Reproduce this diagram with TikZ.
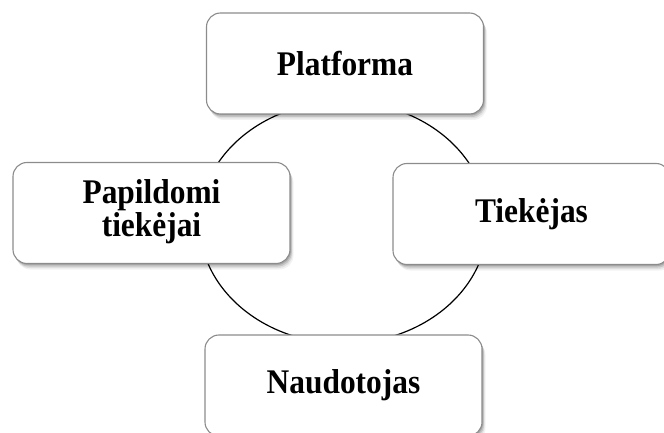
\documentclass[tikz,border=0pt]{standalone}
\usepackage{graphicx}
\usepackage{fontspec}
\setmainfont{Liberation Serif}
\newcommand{\vstretch}[1]{\scalebox{1}[1.1]{#1}}
\begin{document}
\begin{tikzpicture}[x=1pt,y=-1pt,
  cyc/.style={draw=black!45, line width=1.1pt, fill=white, rounded corners=14pt,
    minimum width=277pt, minimum height=101pt, align=center, inner sep=0pt,
    font=\fontsize{31.4}{28.4}\selectfont\bfseries,
    preaction={fill=black, opacity=0.05, transform canvas={xshift=3.5pt,yshift=-6pt}},
    preaction={fill=black, opacity=0.08, transform canvas={xshift=2.5pt,yshift=-4.5pt}},
    preaction={fill=black, opacity=0.12, transform canvas={xshift=1.8pt,yshift=-3pt}},
    preaction={fill=black, opacity=0.15, transform canvas={xshift=1pt,yshift=-1.5pt}}},
  ring/.style={draw=black, line width=1.2pt}]
\useasboundingbox (0,0) rectangle (664,433);
\draw[ring] (343.5,222.5) ellipse [x radius=144, y radius=121];
\node[cyc] (plat) at (345,63.5) {\vstretch{Platforma}};
\node[cyc] (tiek) at (531.5,214) {\vstretch{Tiekėjas}};
\node[cyc] (naud) at (343.5,385.5) {\vstretch{Naudotojas}};
\node[cyc] (papi) at (151.5,213) {\vstretch{\begin{tabular}{@{}c@{}}Papildomi\\tiekėjai\end{tabular}}};
\end{tikzpicture}
\end{document}
